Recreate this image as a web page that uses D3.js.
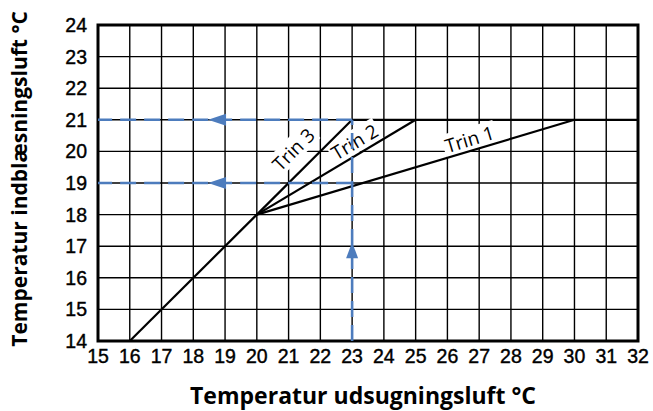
<!DOCTYPE html>
<html>
<head>
<meta charset="utf-8">
<script src="https://cdn.jsdelivr.net/npm/d3@7"></script>
<style>
  body { margin: 0; background: #fff; }
  svg { display: block; }
</style>
</head>
<body>
<svg id="chart" width="653" height="411"></svg>
<script>
// axis ticks
const xTicks = d3.range(15, 33);
const yTicks = d3.range(14, 25);

// common curve up to the branching point
const basePoints = [[16, 14], [20, 18]];
// three steps, each from the branch point to where it meets 21 °C
const trinNames = ["Trin 1", "Trin 2", "Trin 3"];
const trinEnds = [[30, 21], [25, 21], [23, 21]];
// upper limit line
const limitPoints = [[23, 21], [32, 21]];

// reading example (blue dashed)
const readX = 23;
const readY = [21, 19];
const arrowLeftX = 19;
const arrowUpY = 17;

const svg = d3.select("#chart");
const x = d3.scaleLinear().domain([15, 32]).range([98, 638]);
const y = d3.scaleLinear().domain([14, 24]).range([341, 25]);
const blue = "#4d7cbd";

// grid
const grid = svg.append("g").attr("stroke", "#000").attr("stroke-width", 1.4);
grid.selectAll("line.v").data(xTicks).join("line")
    .attr("x1", d => x(d)).attr("x2", d => x(d))
    .attr("y1", y(14)).attr("y2", y(24));
grid.selectAll("line.h").data(yTicks).join("line")
    .attr("x1", x(15)).attr("x2", x(32))
    .attr("y1", d => y(d)).attr("y2", d => y(d));

const line = d3.line().x(d => x(d[0])).y(d => y(d[1]));

svg.append("path").datum(limitPoints)
    .attr("d", line).attr("fill", "none")
    .attr("stroke", "#000").attr("stroke-width", 2.2);

// tick labels
svg.append("g").style("font-family", "'Liberation Sans'")
    .style("font-size", "19.5px").attr("text-anchor", "middle")
    .attr("stroke", "#000").attr("stroke-width", 0.4)
  .selectAll("text").data(xTicks).join("text")
    .attr("x", d => x(d)).attr("y", 363)
    .text(d => d);
svg.append("g").style("font-family", "'Liberation Sans'")
    .style("font-size", "19.5px").attr("text-anchor", "end")
    .attr("stroke", "#000").attr("stroke-width", 0.4)
  .selectAll("text").data(yTicks).join("text")
    .attr("x", 87).attr("y", d => y(d) + 7)
    .text(d => d);

// step labels, placed along their line (fraction along, px offset above)
const labelPlace = [[0.68, 11], [0.655, 12], [0.535, 20]];
const p0 = [x(basePoints[1][0]), y(basePoints[1][1])];
const labels = svg.append("g");
trinNames.forEach((name, i) => {
  const p1 = [x(trinEnds[i][0]), y(trinEnds[i][1])];
  const dx = p1[0] - p0[0], dy = p1[1] - p0[1];
  const len = Math.hypot(dx, dy);
  const ux = dx / len, uy = dy / len;
  const [f, off] = labelPlace[i];
  const cx = p0[0] + ux * len * f + uy * off;
  const cy = p0[1] + uy * len * f - ux * off;
  const ang = Math.atan2(dy, dx) * 180 / Math.PI;
  const g = labels.append("g").attr("transform", `translate(${cx},${cy}) rotate(${ang})`);
  const bg = g.append("rect").attr("fill", "#fff");
  const t = g.append("text")
      .style("font-family", "'Open Sans'")
      .style("font-size", "19px")
      .attr("text-anchor", "middle")
      .attr("dy", "0.35em")
      .text(name);
  const b = t.node().getBBox();
  bg.attr("x", b.x - 2).attr("y", b.y + 1).attr("width", b.width + 4).attr("height", b.height - 3);
});

// data lines
svg.append("path").datum(basePoints)
    .attr("d", line).attr("fill", "none")
    .attr("stroke", "#000").attr("stroke-width", 2.2);
svg.append("g").selectAll("path").data(trinEnds).join("path")
    .attr("d", d => line([basePoints[1], d]))
    .attr("fill", "none").attr("stroke", "#000").attr("stroke-width", 2.2);

// frame
svg.append("rect")
    .attr("x", x(15)).attr("y", y(24))
    .attr("width", x(32) - x(15)).attr("height", y(14) - y(24))
    .attr("fill", "none").attr("stroke", "#000").attr("stroke-width", 3);

// blue reading lines
const read = svg.append("g").attr("stroke", blue).attr("stroke-width", 2.6)
    .attr("stroke-dasharray", "16,8").attr("fill", "none");
read.append("line")
    .attr("x1", x(readX)).attr("x2", x(readX))
    .attr("y1", y(14)).attr("y2", y(readY[0]));
read.selectAll("line.h").data(readY).join("line")
    .attr("x1", x(readX)).attr("x2", x(15))
    .attr("y1", d => y(d)).attr("y2", d => y(d));

const arrows = svg.append("g").attr("fill", blue);
arrows.selectAll("path").data(readY).join("path")
    .attr("d", d => {
      const tx = x(arrowLeftX) - 17, ty = y(d);
      return `M${tx},${ty}L${tx + 18},${ty - 6}L${tx + 18},${ty + 6}Z`;
    });
arrows.append("path")
    .attr("d", () => {
      const tx = x(readX), ty = y(arrowUpY) - 4;
      return `M${tx},${ty}L${tx - 6},${ty + 16}L${tx + 6},${ty + 16}Z`;
    });

// axis titles
svg.append("text")
    .attr("x", 363).attr("y", 404)
    .attr("text-anchor", "middle")
    .style("font-family", "'Open Sans'")
    .style("font-weight", "bold").style("font-size", "23px")
    .text("Temperatur udsugningsluft °C");
svg.append("text")
    .attr("transform", "translate(27,179) rotate(-90)")
    .attr("text-anchor", "middle")
    .style("font-family", "'Open Sans'")
    .style("font-weight", "bold").style("font-size", "21px")
    .text("Temperatur indblæsningsluft °C");
</script>
</body>
</html>
